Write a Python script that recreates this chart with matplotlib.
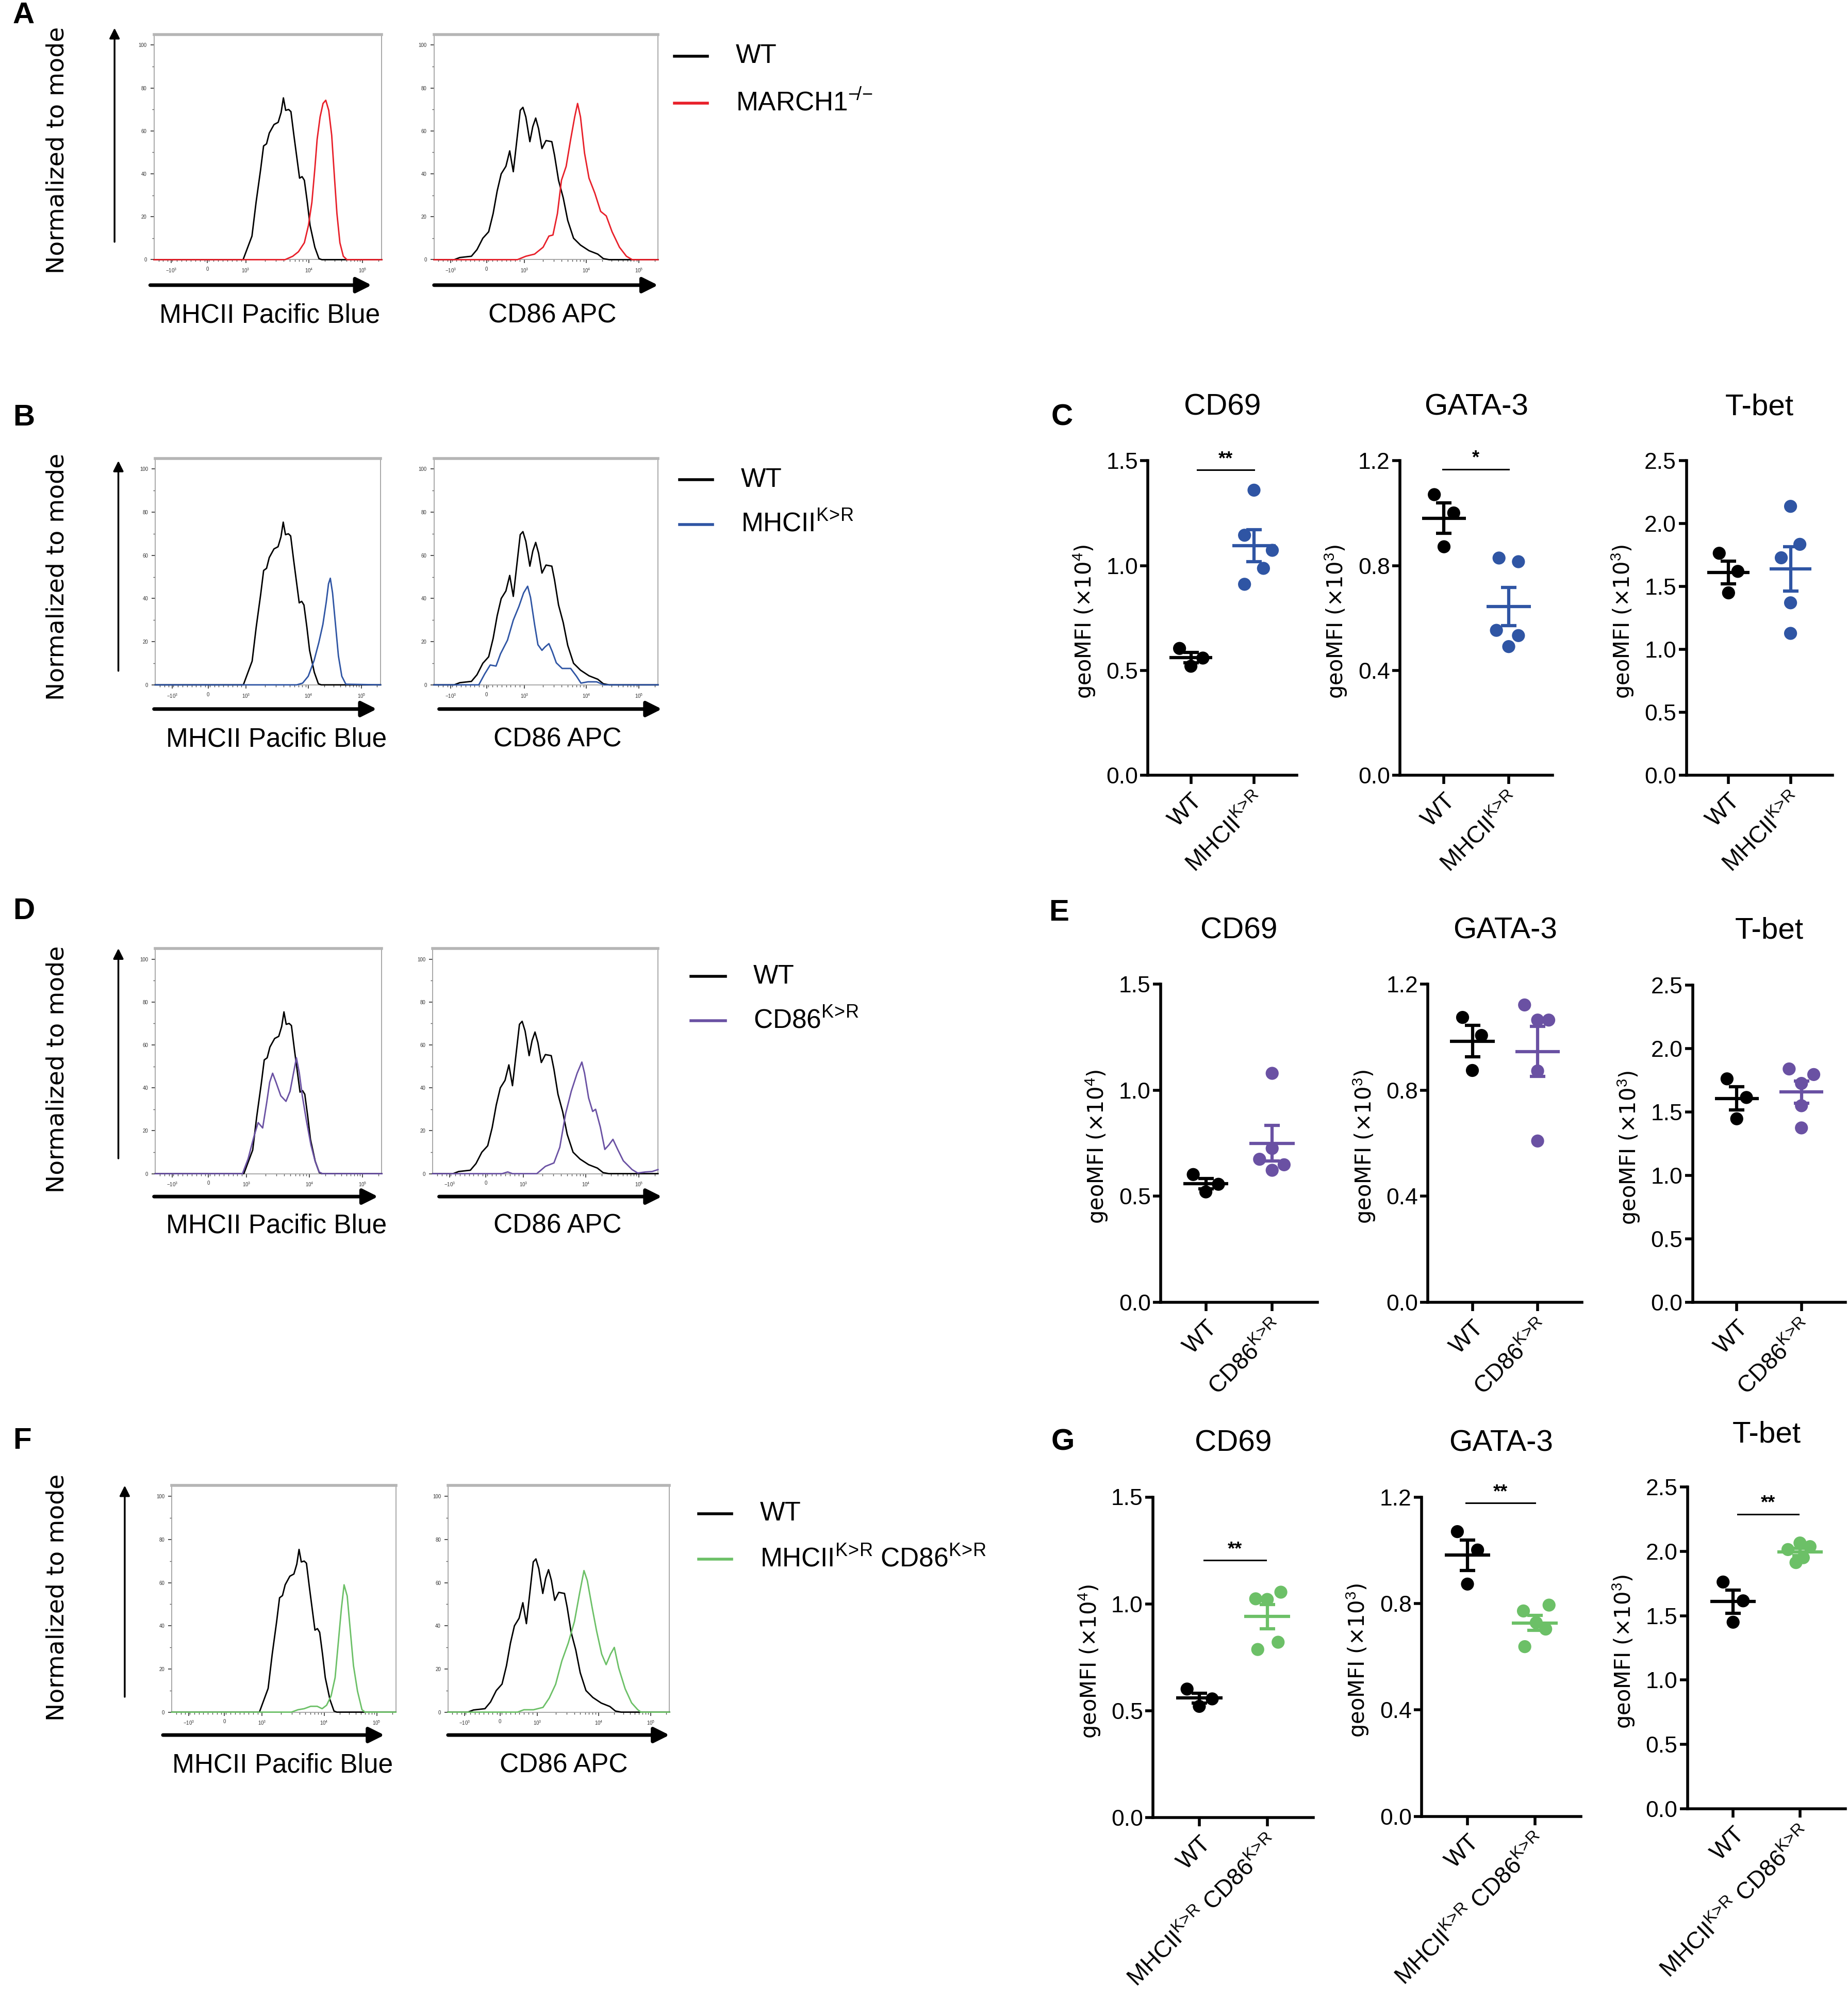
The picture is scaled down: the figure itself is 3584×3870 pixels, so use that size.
import numpy as np
import matplotlib
matplotlib.use('Agg')
import matplotlib.pyplot as plt
from matplotlib.lines import Line2D
from matplotlib.patches import FancyArrowPatch

plt.rcParams['font.family'] = ['Liberation Sans', 'DejaVu Sans']
plt.rcParams['mathtext.fontset'] = 'custom'
plt.rcParams['mathtext.rm'] = 'Liberation Sans'
plt.rcParams['mathtext.it'] = 'Liberation Sans:italic'
plt.rcParams['mathtext.bf'] = 'Liberation Sans:bold'

# ---------------- histogram data (x in % of axis width, y = % of mode) ----------------
hist_tick_pos = [7.5, 23.5, 40.3, 68.0, 91.5]
hist_tick_lab = [r'$-10^3$', '0', r'$10^3$', r'$10^4$', r'$10^5$']

wt_mhc_x = [0, 39.1, 43.0, 44.8, 46.8, 48.1, 49.4, 50.6, 52.7, 54.5, 55.8, 56.8, 57.8,
            59.1, 60.1, 61.4, 62.7, 63.9, 65.0, 66.0, 67.3, 68.5, 70.6, 72.4, 73.7, 100]
wt_mhc_y = [0, 0, 11, 26.7, 42, 53, 54, 59, 63, 64, 68.6, 75.4, 69.6,
            70, 69, 58, 47.6, 38, 38.7, 37, 26.7, 16, 5.8, 0.5, 0, 0]
wt_cd86_x = [0, 9.0, 11.5, 16.7, 19.2, 21.8, 24.4, 26.4, 28.2, 30.0, 32.1, 33.8, 35.4, 36.7,
             38.5, 39.7, 41.0, 42.8, 44.1, 45.4, 46.7, 48.2, 50.0, 52.6, 53.8, 55.6, 57.7,
             59.7, 62.3, 65.4, 69.2, 73.1, 75.6, 78.2, 100]
wt_cd86_y = [0, 0, 1.0, 1.6, 4.7, 10, 13, 21.5, 32, 40, 43.5, 50.7, 41, 53,
             69.6, 71, 66.5, 55, 62, 66, 61, 51.8, 55.5, 55, 48.7, 37, 28.8,
             18.3, 10, 6.8, 4.2, 2.6, 0.5, 0, 0]

march_mhc_x = [0, 57.5, 60.9, 63.4, 66.0, 67.8, 69.3, 70.6, 71.6, 72.9, 74.2, 75.4, 76.7,
               78.0, 79.3, 80.3, 81.6, 83.1, 84.7, 100]
march_mhc_y = [0, 0, 1.6, 3.7, 7.9, 16, 26.7, 42.4, 56, 66.5, 72.8, 74.3, 69.6,
               58, 37, 21.5, 7.9, 1.6, 0, 0]
march_cd86_x = [0, 37.2, 41.0, 44.9, 48.7, 51.3, 53.1, 55.1, 56.9, 59.0, 61.0, 62.8, 64.1,
                65.4, 67.2, 69.2, 71.8, 74.4, 76.9, 79.5, 82.8, 85.9, 88.5, 100]
march_cd86_y = [0, 0, 1.6, 2.6, 5.8, 11, 11.5, 21.5, 37, 43.5, 56, 66.5, 72.8,
                66.5, 49.7, 38, 31, 22.5, 20.4, 13, 5.8, 1.6, 0, 0]

mhckr_mhc_x = [0, 62.8, 65.4, 67.9, 70.5, 72.6, 74.4, 75.9, 76.9, 77.7, 78.7, 80.0, 81.3,
               82.8, 84.6, 100]
mhckr_mhc_y = [0, 0, 0.8, 4, 11.3, 19.6, 28, 38.4, 46.8, 49.4, 42.6, 28, 13.4, 4, 0.3, 0]
mhckr_cd86_x = [0, 20.0, 22.6, 25.1, 27.7, 29.7, 32.8, 35.4, 37.9, 40.0, 41.8, 43.1, 44.9,
                46.4, 48.2, 49.5, 51.3, 52.8, 54.6, 57.2, 61.0, 63.6, 65.6, 68.7, 72.6, 75.9, 100]
mhckr_cd86_y = [0, 0, 5, 9.2, 8.7, 14.4, 20.7, 30, 36.3, 42.6, 45.7, 40.5, 28,
                18.6, 16, 17.5, 19.1, 15.4, 10.2, 7.6, 7.6, 4, 0.8, 1.4, 1.4, 0, 0]

cd86kr_mhc_x = [0, 38.5, 41.0, 43.6, 45.4, 47.4, 49.2, 50.5, 51.8, 53.3, 55.4, 57.7, 59.5,
                61.0, 62.3, 63.6, 64.9, 66.7, 68.7, 70.5, 72.3, 73.8, 100]
cd86kr_mhc_y = [0, 0, 7, 17.5, 23.8, 21.3, 33.2, 42.6, 46.8, 42.6, 36.3, 33.7, 38.4,
                46.8, 54, 46.8, 36.3, 24.8, 13.4, 6, 0.8, 0, 0]
cd86kr_cd86_x = [0, 30.8, 33.3, 35.4, 46.2, 50.0, 53.8, 56.4, 59.0, 61.5, 64.1, 66.2, 67.4,
                 69.2, 71.0, 72.3, 74.4, 76.4, 78.2, 80.0, 82.1, 84.6, 88.5, 91.0, 94.4, 97.4, 100]
cd86kr_cd86_y = [0, 0, 0.8, 0, 0, 3.4, 5, 12.3, 28, 38.4, 46.8, 52, 46.8,
                 35.3, 29, 30, 21.7, 11.3, 13.4, 16, 11.3, 6, 1.9, 0.3, 0.8, 1, 1.9]

dkr_mhc_x = [0, 53.4, 56.3, 59.1, 62.0, 64.9, 67.1, 69.1, 71.1, 72.9, 74.3, 75.7, 76.9,
             78.3, 79.7, 81.1, 82.9, 84.9, 86.3, 100]
dkr_mhc_y = [0, 0, 1.1, 1.6, 2.7, 2.7, 1.6, 3.2, 7.5, 16, 32, 48, 59,
             53.8, 37.6, 21.5, 9.7, 1.1, 0, 0]
dkr_cd86_x = [0, 31.4, 34.3, 38.6, 42.9, 45.7, 48.6, 51.4, 54.3, 57.1, 59.4, 61.4, 62.9,
              65.1, 67.1, 69.4, 71.4, 73.4, 75.1, 77.1, 80.0, 82.9, 85.7, 87.1, 100]
dkr_cd86_y = [0, 0, 1.1, 1.1, 2.2, 6.5, 12.9, 23.7, 32, 42, 55, 65.6, 61,
              48.4, 37.6, 26.9, 22, 26.9, 30, 20.4, 10.8, 4.3, 1.1, 0, 0]

# ---------------- dot plot data (geoMFI) ----------------
c_cd69_wt = [0.605, 0.520, 0.559]
c_cd69_mut = [1.360, 1.145, 1.073, 0.987, 0.911]
c_gata3_wt = [1.071, 1.001, 0.872]
c_gata3_mut = [0.829, 0.815, 0.553, 0.533, 0.491]
c_tbet_wt = [1.765, 1.621, 1.450]
c_tbet_mut = [2.138, 1.836, 1.729, 1.371, 1.128]

e_cd69_wt = [0.602, 0.520, 0.556]
e_cd69_mut = [1.079, 0.725, 0.674, 0.648, 0.622]
e_gata3_wt = [1.074, 1.006, 0.874]
e_gata3_mut = [1.121, 1.064, 1.064, 0.872, 0.608]
e_tbet_wt = [1.762, 1.615, 1.447]
e_tbet_mut = [1.840, 1.796, 1.726, 1.550, 1.375]

g_cd69_wt = [0.602, 0.521, 0.556]
g_cd69_mut = [1.055, 1.024, 1.021, 0.821, 0.787]
g_gata3_wt = [1.070, 1.001, 0.873]
g_gata3_mut = [0.794, 0.772, 0.728, 0.704, 0.638]
g_tbet_wt = [1.761, 1.615, 1.449]
g_tbet_mut = [2.064, 2.036, 2.013, 1.950, 1.912]

# horizontal scatter of dots as drawn in the figure
wt_dx_c = [[-0.18, 0.0, 0.19], [-0.15, 0.15, 0.0], [-0.15, 0.15, 0.0]]
mut_dx_c = [[0.0, -0.15, 0.29, 0.15, -0.15], [-0.15, 0.15, -0.19, 0.15, 0.0], [0.0, 0.15, -0.15, 0.0, 0.0]]
wt_dx_e = [[-0.19, 0.0, 0.19], [-0.15, 0.14, 0.0], [-0.15, 0.15, 0.0]]
mut_dx_e = [[0.0, 0.0, -0.19, 0.18, 0.0], [-0.2, 0.0, 0.17, 0.0, 0.0], [-0.19, 0.19, 0.0, 0.0, 0.0]]
wt_dx_g = [[-0.18, 0.0, 0.19], [-0.15, 0.15, 0.0], [-0.15, 0.15, 0.0]]
mut_dx_g = [[0.2, -0.17, 0.0, 0.16, -0.14], [0.21, -0.17, 0.02, 0.16, -0.15], [0.0, 0.15, -0.18, 0.05, -0.06]]

titles = ['CD69', 'GATA-3', 'T-bet']
ylabels = [r'geoMFI (×10$^4$)', r'geoMFI (×10$^3$)', r'geoMFI (×10$^3$)']
ymaxes = [1.5, 1.2, 2.5]
yticks_list = [[0, 0.5, 1.0, 1.5], [0, 0.4, 0.8, 1.2], [0, 0.5, 1.0, 1.5, 2.0, 2.5]]

KR = r'$^{\mathrm{K}\!>\!\mathrm{R}}$'

RED = '#e8202a'
BLUE = '#2f55a4'
PURPLE = '#6a51a3'
GREEN = '#6cc067'

# layout grid: reference preview pixels
W, H = 1452.0, 1568.0


def fx(px):
    return px / W


def fy(py):
    return 1 - py / H


fig = plt.figure(figsize=(35.84, 38.70), dpi=100)


def arrow(x0, y0, x1, y1, lw, ms):
    a = FancyArrowPatch((fx(x0), fy(y0)), (fx(x1), fy(y1)), transform=fig.transFigure,
                        arrowstyle='-|>,head_length=0.6,head_width=0.3', mutation_scale=ms,
                        lw=lw, color='black', shrinkA=0, shrinkB=0)
    fig.add_artist(a)


def draw_hist(left, right, top, bottom, wx, wy, mx, my, color):
    ax = fig.add_axes([fx(left), fy(bottom), (right - left) / W, (bottom - top) / H])
    ax.plot(wx, wy, color='black', lw=2, clip_on=False, zorder=3)
    ax.plot(mx, my, color=color, lw=2, clip_on=False, zorder=4)
    ax.set_xlim(0, 100)
    ax.set_ylim(0, 105)
    for s in ['left', 'right', 'bottom']:
        ax.spines[s].set_color('#9a9a9a')
        ax.spines[s].set_linewidth(1.2)
    ax.spines['top'].set_color('#b5b5b5')
    ax.spines['top'].set_linewidth(4)
    ax.set_yticks([0, 20, 40, 60, 80, 100])
    ax.set_yticklabels(['0', '20', '40', '60', '80', '100'])
    ax.set_yticks(np.arange(10, 100, 10), minor=True)
    ax.set_xticks(hist_tick_pos)
    ax.set_xticklabels(hist_tick_lab)
    dec1 = hist_tick_pos[2] + (hist_tick_pos[3] - hist_tick_pos[2]) * np.log10(np.arange(2, 10))
    dec2 = hist_tick_pos[3] + (hist_tick_pos[4] - hist_tick_pos[3]) * np.log10(np.arange(2, 10))
    lin = np.linspace(2, hist_tick_pos[2], 20)
    ax.set_xticks(np.concatenate([lin, dec1, dec2, [98.5]]), minor=True)
    ax.tick_params(axis='both', which='major', length=5, width=1.2, labelsize=7,
                   colors='#333333', pad=5)
    ax.tick_params(axis='both', which='minor', length=3, width=1, colors='#555555')
    return ax


hist_rows = [
    dict(letter='A', ly=12, top=27, bot=204, L=(121, 300), R=(341, 517), ay=224, aL=(118, 292), aR=(341, 517),
         laby=248, labx=(212, 434), vx=90, vy=(190, 22), ny=118, lgx=(530, 556), lgy=(44, 81), lgt=578,
         color=RED, mut=(march_mhc_x, march_mhc_y, march_cd86_x, march_cd86_y),
         name=r'MARCH1$^{-\!/\!-}$'),
    dict(letter='B', ly=328, top=360, bot=538, L=(122, 299), R=(341, 517), ay=557, aL=(121, 296), aR=(345, 520),
         laby=581, labx=(217, 438), vx=93, vy=(527, 362), ny=453, lgx=(534, 560), lgy=(377, 412), lgt=582,
         color=BLUE, mut=(mhckr_mhc_x, mhckr_mhc_y, mhckr_cd86_x, mhckr_cd86_y), name='MHCII' + KR),
    dict(letter='D', ly=716, top=745, bot=922, L=(122, 300), R=(340, 517), ay=940, aL=(121, 297), aR=(345, 520),
         laby=963, labx=(217, 438), vx=93, vy=(910, 745), ny=840, lgx=(543, 570), lgy=(767, 802), lgt=592,
         color=PURPLE, mut=(cd86kr_mhc_x, cd86kr_mhc_y, cd86kr_cd86_x, cd86kr_cd86_y), name='CD86' + KR),
    dict(letter='F', ly=1132, top=1167, bot=1345, L=(135, 311), R=(352, 526), ay=1363, aL=(128, 302), aR=(352, 526),
         laby=1387, labx=(222, 443), vx=98, vy=(1333, 1167), ny=1255, lgx=(549, 575), lgy=(1189, 1225), lgt=597,
         color=GREEN, mut=(dkr_mhc_x, dkr_mhc_y, dkr_cd86_x, dkr_cd86_y),
         name='MHCII' + KR + ' CD86' + KR),
]

for r in hist_rows:
    fig.text(fx(10), fy(r['ly']), r['letter'], fontsize=42, fontweight='bold', ha='left', va='center')
    mx1, my1, mx2, my2 = r['mut']
    draw_hist(r['L'][0], r['L'][1], r['top'], r['bot'], wt_mhc_x, wt_mhc_y, mx1, my1, r['color'])
    draw_hist(r['R'][0], r['R'][1], r['top'], r['bot'], wt_cd86_x, wt_cd86_y, mx2, my2, r['color'])
    arrow(r['aL'][0], r['ay'], r['aL'][1], r['ay'], 5, 30)
    arrow(r['aR'][0], r['ay'], r['aR'][1], r['ay'], 5, 30)
    arrow(r['vx'], r['vy'][0], r['vx'], r['vy'][1], 2.5, 20)
    fig.text(fx(r['labx'][0]), fy(r['laby']), 'MHCII Pacific Blue', fontsize=37, ha='center', va='center')
    fig.text(fx(r['labx'][1]), fy(r['laby']), 'CD86 APC', fontsize=37, ha='center', va='center')
    fig.text(fx(45), fy(r['ny']), 'Normalized to mode', fontsize=34, family='DejaVu Sans',
             rotation=90, ha='center', va='center')
    for yy, col, lab in [(r['lgy'][0], 'black', 'WT'), (r['lgy'][1], r['color'], r['name'])]:
        fig.add_artist(Line2D([fx(r['lgx'][0]), fx(r['lgx'][1])], [fy(yy), fy(yy)],
                              transform=fig.transFigure, color=col, lw=4))
        fig.text(fx(r['lgt']), fy(yy), lab, fontsize=37, ha='left', va='center')


def draw_dots(left, right, top, bottom, k, wt, wdx, mut, mdx, color, mut_label, title_y, sig=None):
    ax = fig.add_axes([fx(left), fy(bottom), (right - left) / W, (bottom - top) / H])
    ax.set_xlim(-0.68, 1.68)
    ax.set_ylim(0, ymaxes[k])
    for x0, vals, dx, c in [(0, wt, wdx, 'black'), (1, mut, mdx, color)]:
        vals = np.array(vals)
        ax.scatter(x0 + np.array(dx), vals, s=330, color=c, edgecolors='none', zorder=3, clip_on=False)
        m = vals.mean()
        sem = vals.std(ddof=1) / np.sqrt(len(vals))
        ax.hlines(m, x0 - 0.34, x0 + 0.34, color=c, lw=4.5, zorder=4)
        ax.errorbar(x0, m, yerr=sem, fmt='none', ecolor=c, elinewidth=4.5, capsize=11,
                    capthick=4.5, zorder=4)
    for s in ['top', 'right']:
        ax.spines[s].set_visible(False)
    for s in ['left', 'bottom']:
        ax.spines[s].set_linewidth(4)
    ax.set_yticks(yticks_list[k])
    ax.set_yticklabels(['%.1f' % v for v in yticks_list[k]])
    ax.set_xticks([0, 1])
    ax.set_xticklabels(['WT', mut_label], rotation=45, ha='right', rotation_mode='anchor')
    ax.tick_params(axis='y', length=11, width=4, labelsize=32, pad=3)
    ax.tick_params(axis='x', length=12, width=4, labelsize=33, pad=8)
    cx = (left + right) / 2.0
    fig.text(fx(cx), fy(title_y), titles[k], fontsize=42, ha='center', va='center')
    fig.text(fx(left - 50), fy((top + bottom) / 2.0 + 3), ylabels[k], fontsize=30,
             family='DejaVu Sans', rotation=90, ha='center', va='center')
    if sig is not None:
        yb, x0, x1, stars = sig
        ax.plot([x0, x1], [yb, yb], color='black', lw=2.2, clip_on=False)
        ax.text((x0 + x1) / 2.0, yb + ymaxes[k] * 0.005, stars, fontsize=26, fontweight='bold',
                ha='center', va='bottom')
    return ax


# panel C
fig.text(fx(826), fy(328), 'C', fontsize=42, fontweight='bold', ha='left', va='center')
lab_c = 'MHCII' + KR
draw_dots(902, 1019, 362, 609, 0, c_cd69_wt, wt_dx_c[0], c_cd69_mut, mut_dx_c[0], BLUE, lab_c, 320,
          sig=(1.456, 0.1, 1.0, '**'))
draw_dots(1100, 1220, 362, 609, 1, c_gata3_wt, wt_dx_c[1], c_gata3_mut, mut_dx_c[1], BLUE, lab_c, 320,
          sig=(1.168, -0.02, 1.0, '*'))
draw_dots(1325, 1440, 362, 609, 2, c_tbet_wt, wt_dx_c[2], c_tbet_mut, mut_dx_c[2], BLUE, lab_c, 320)

# panel E
fig.text(fx(824), fy(717), 'E', fontsize=42, fontweight='bold', ha='left', va='center')
lab_e = 'CD86' + KR
draw_dots(912, 1035, 773, 1023, 0, e_cd69_wt, wt_dx_e[0], e_cd69_mut, mut_dx_e[0], PURPLE, lab_e, 731)
draw_dots(1122, 1243, 773, 1023, 1, e_gata3_wt, wt_dx_e[1], e_gata3_mut, mut_dx_e[1], PURPLE, lab_e, 731)
draw_dots(1330, 1450, 774, 1023, 2, e_tbet_wt, wt_dx_e[2], e_tbet_mut, mut_dx_e[2], PURPLE, lab_e, 731)

# panel G
fig.text(fx(826), fy(1133), 'G', fontsize=42, fontweight='bold', ha='left', va='center')
lab_g = 'MHCII' + KR + ' CD86' + KR
draw_dots(906, 1032, 1176, 1428, 0, g_cd69_wt, wt_dx_g[0], g_cd69_mut, mut_dx_g[0], GREEN, lab_g, 1134,
          sig=(1.205, 0.07, 0.98, '**'))
draw_dots(1117, 1242, 1176, 1427, 1, g_gata3_wt, wt_dx_g[1], g_gata3_mut, mut_dx_g[1], GREEN, lab_g, 1134,
          sig=(1.177, -0.02, 1.0, '**'))
draw_dots(1326, 1450, 1168, 1421, 2, g_tbet_wt, wt_dx_g[2], g_tbet_mut, mut_dx_g[2], GREEN, lab_g, 1127,
          sig=(2.288, 0.07, 0.98, '**'))

fig.savefig('out.png', dpi=100)
